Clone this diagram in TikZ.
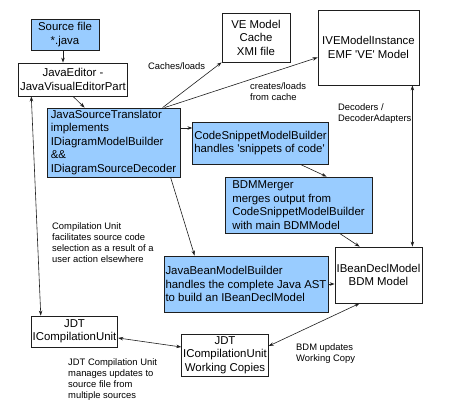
\documentclass[tikz,border=0pt]{standalone}
\usepackage{fontspec}
\setmainfont{Liberation Sans}
\definecolor{ve_fill}{RGB}{153, 204, 255}
\definecolor{ve_line}{RGB}{30, 30, 30}
\usetikzlibrary{arrows.meta}

\begin{document}
\begin{tikzpicture}[
        x=1pt, y=-1pt,
        box/.style={draw=ve_line, fill=white, line width=0.8pt, inner sep=1.5pt,
                    font=\fontsize{11.4}{13.5}\selectfont, align=center},
        part/.style={box, fill=ve_fill},
        note/.style={anchor=north west, inner sep=0pt, align=left,
                     font=\fontsize{9.4}{11.3}\selectfont},
        arr/.style={-{Stealth[length=5pt, width=3.5pt]}, ve_line, line width=0.6pt},
        both/.style={arr, {Stealth[length=5pt, width=3.5pt]}-{Stealth[length=5pt, width=3.5pt]}},
      ]
        \useasboundingbox (0,0) rectangle (450,411);
        % boxes
        \node[part, minimum width=68pt, minimum height=31pt] (src) at (65,34.5)
          {Source file\\ *.java};
        \node[box, minimum width=104pt, minimum height=33pt] (editor) at (73,79.5)
          {JavaEditor -\\JavaVisualEditorPart};
        \node[part, align=left, minimum width=133pt, minimum height=69pt] (jst) at (113.5,142.5)
          {JavaSourceTranslator\\implements\\IDiagramModelBuilder\\\&\&\\IDiagramSourceDecoder};
        \node[box, minimum width=68pt, minimum height=49pt] (cache) at (256,37.5)
          {VE Model\\Cache\\XMI file};
        \node[box, minimum width=101pt, minimum height=75pt] (ive) at (368.5,47.5)
          {IVEModelInstance\\EMF \textquotesingle VE\textquotesingle{} Model};
        \node[part, align=left, minimum width=123pt, minimum height=42pt] (snippet) at (260.5,143)
          {CodeSnippetModelBuilder\\handles \textquotesingle snippets of code\textquotesingle};
        \node[part, align=left, minimum width=147pt, minimum height=56pt] (merger) at (298.5,205)
          {BDMMerger\\merges output from\\CodeSnippetModelBuilder\\with main BDMModel};
        \node[box, minimum width=87pt, minimum height=56pt] (bdm) at (378.5,275)
          {IBeanDeclModel\\BDM Model};
        \node[part, align=left, minimum width=154pt, minimum height=56pt] (jbmb) at (246,284)
          {JavaBeanModelBuilder\\handles the complete Java AST\\to build an IBeanDeclModel};
        \node[box, minimum width=81pt, minimum height=31pt] (jdt) at (74.5,331.5)
          {JDT\\ICompilationUnit};
        \node[box, minimum width=78pt, minimum height=42pt] (wc) at (225,355)
          {JDT\\ICompilationUnit\\Working Copies};
        % labels
        \node[note] (lcache) at (148,62) {Caches/loads};
        \node[note] (lcreate) at (250,82) {creates/loads\\from cache};
        \node[note] (ldec) at (338,103) {Decoders /\\DecoderAdapters};
        \node[note] (lunit) at (52,222)
          {Compilation Unit\\facilitates source code\\selection as a result of a\\user action elsewhere};
        \node[note] (ljdt) at (68,358)
          {JDT Compilation Unit\\manages updates to\\source file from\\multiple sources};
        \node[note] (lbdm) at (296,343) {BDM updates\\Working Copy};
        % connectors
        \draw[arr] ([xshift=-2pt]src.south) -- ([xshift=-2pt]src.south |- editor.north);
        \draw[arr] (editor.south) -- ([xshift=38pt]jst.north west);
        \draw[arr] ([xshift=116pt]jst.north west) -- (cache.south west);
        \draw[arr] ([xshift=118pt]jst.north west) -- ([yshift=-10pt]ive.west);
        \draw[arr] ([yshift=14.5pt]jst.east) -- ([yshift=14.5pt]jst.east -| snippet.west);
        \draw[arr] ([xshift=108pt]snippet.south west) -- ([xshift=102pt]merger.north west);
        \draw[arr] ([xshift=115pt]merger.south west) -- ([xshift=25pt]bdm.north west);
        \draw[both] ([xshift=-7pt]ive.south east) -- ([xshift=-7pt]ive.south east |- bdm.north);
        \draw[arr] ([xshift=124pt]jst.south west) -- ([xshift=31pt]jbmb.north west);
        \draw[arr, dashed] (jbmb.east) -- (jbmb.east -| bdm.west);
        \draw[both] ([xshift=13pt]editor.south west) -- ([xshift=10pt]jdt.north west);
        \draw[both] ([yshift=-6.5pt]jdt.east) -- ([yshift=8pt]wc.west);
        \draw[both] ([yshift=9pt]wc.east) -- ([xshift=25pt]bdm.south west);
      \end{tikzpicture}
\end{document}
